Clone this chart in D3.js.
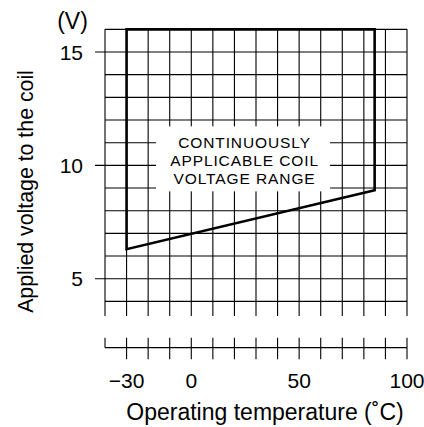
<!DOCTYPE html>
<html>
<head>
<meta charset="utf-8">
<script src="https://cdn.jsdelivr.net/npm/d3@7"></script>
<style>
  body { margin: 0; background: #fff; }
  svg { display: block; font-family: "Liberation Sans", Arial, sans-serif; }
</style>
</head>
<body>
<div id="chart"></div>
<script>
// Datos
const TEMP_TICKS = [-30, 0, 50, 100];
const VOLT_TICKS = [5, 10, 15];
const GRID_TEMPS = [-40, -30, -20, -10, 0, 10, 20, 30, 40, 50, 60, 70, 80, 90, 100];
const GRID_VOLTS = [4, 5, 6, 7, 8, 9, 10, 11, 12, 13, 14, 15, 16];
const GRID_BOTTOM = 3.35; // donde se corta la grilla
// Zona de tensión admisible: temperatura, tensión mínima y máxima
const RANGE_TEMP = [-30, 85];
const RANGE_MIN_V = [6.3, 8.9];
const RANGE_MAX_V = [16, 16];
const BOX_LINES = ["CONTINUOUSLY", "APPLICABLE COIL", "VOLTAGE RANGE"];

const WIDTH = 424;
const HEIGHT = 427;

const svg = d3.select("#chart").append("svg")
    .attr("width", WIDTH)
    .attr("height", HEIGHT);

// Escalas
const x = d3.scaleLinear().domain([-40, 100]).range([105, 407]);
const y = d3.scaleLinear().domain([5, 15]).range([278.7, 52]);

const AXIS_Y = 347.7;

// Grilla vertical
svg.append("g")
    .selectAll("line")
    .data(GRID_TEMPS)
    .enter().append("line")
    .attr("x1", d => x(d))
    .attr("x2", d => x(d))
    .attr("y1", y(16))
    .attr("y2", y(GRID_BOTTOM))
    .attr("stroke", "#000")
    .attr("stroke-width", 1.1);

// Grilla horizontal (las etiquetadas se alargan como marca)
svg.append("g")
    .selectAll("line")
    .data(GRID_VOLTS)
    .enter().append("line")
    .attr("x1", d => VOLT_TICKS.includes(d) ? x(-40) - 10 : x(-40))
    .attr("x2", x(100))
    .attr("y1", d => y(d))
    .attr("y2", d => y(d))
    .attr("stroke", "#000")
    .attr("stroke-width", 1.1);

// Caja blanca con el texto
const boxX = x(24);
svg.append("rect")
    .attr("x", boxX - 87)
    .attr("y", y(10) - 39)
    .attr("width", 174)
    .attr("height", 65)
    .attr("fill", "#fff");

// Tres renglones, algo más separados para que no se pisen
const LINE_GAP = 17.9;
svg.append("g")
    .selectAll("text")
    .data(BOX_LINES)
    .enter().append("text")
    .attr("x", boxX + 1.5)
    .attr("y", (d, i) => y(10) + 0.5 + (i - 1) * LINE_GAP)
    .attr("text-anchor", "middle")
    .style("font-size", "15.5px")
    .style("letter-spacing", "0.9px")
    .text(d => d);

// Zona admisible
const zone = [
    [RANGE_TEMP[0], RANGE_MAX_V[0]],
    [RANGE_TEMP[0], RANGE_MIN_V[0]],
    [RANGE_TEMP[1], RANGE_MIN_V[1]],
    [RANGE_TEMP[1], RANGE_MAX_V[1]]
];
svg.append("path")
    .attr("d", d3.line().x(d => x(d[0])).y(d => y(d[1]))(zone) + "Z")
    .attr("fill", "none")
    .attr("stroke", "#000")
    .attr("stroke-width", 2.6)
    .attr("stroke-linejoin", "miter");

// Eje X separado
svg.append("line")
    .attr("x1", x(-40))
    .attr("x2", x(100))
    .attr("y1", AXIS_Y)
    .attr("y2", AXIS_Y)
    .attr("stroke", "#000")
    .attr("stroke-width", 1.2);

svg.append("g")
    .selectAll("line")
    .data(GRID_TEMPS)
    .enter().append("line")
    .attr("x1", d => x(d))
    .attr("x2", d => x(d))
    .attr("y1", AXIS_Y - 10)
    .attr("y2", d => d === -40 ? AXIS_Y : AXIS_Y + 11.5)
    .attr("stroke", "#000")
    .attr("stroke-width", 1.1);

// Etiquetas de los ejes
svg.append("g")
    .selectAll("text")
    .data(TEMP_TICKS)
    .enter().append("text")
    .attr("x", d => x(d))
    .attr("y", 387.5)
    .attr("text-anchor", "middle")
    .style("font-size", "21px")
    .text(d => d < 0 ? "\u2212" + Math.abs(d) : d);

svg.append("g")
    .selectAll("text")
    .data(VOLT_TICKS)
    .enter().append("text")
    .attr("x", 83)
    .attr("y", d => y(d) + 7.5)
    .attr("text-anchor", "end")
    .style("font-size", "21px")
    .text(d => d);

svg.append("text")
    .attr("x", 72.5)
    .attr("y", 29)
    .attr("text-anchor", "middle")
    .style("font-size", "23px")
    .text("(V)");

svg.append("text")
    .attr("x", 265)
    .attr("y", 420)
    .attr("text-anchor", "middle")
    .style("font-size", "23px")
    .text("Operating temperature (\u02DAC)");

svg.append("text")
    .attr("transform", "translate(33,191.5) rotate(-90)")
    .attr("text-anchor", "middle")
    .style("font-size", "21.3px")
    .text("Applied voltage to the coil");
</script>
</body>
</html>
